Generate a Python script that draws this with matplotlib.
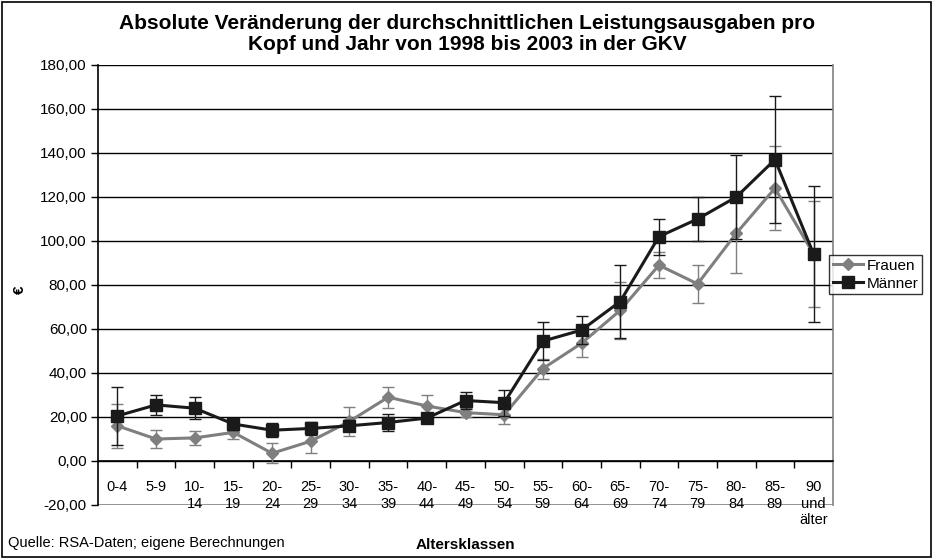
import numpy as np
import matplotlib.pyplot as plt
from matplotlib.lines import Line2D
from matplotlib.ticker import FuncFormatter, FixedLocator

plt.rcParams['font.family'] = ['Liberation Sans', 'DejaVu Sans']

# Altersklassen (x axis categories)
age_groups = ["0-4", "5-9", "10-\n14", "15-\n19", "20-\n24", "25-\n29", "30-\n34",
              "35-\n39", "40-\n44", "45-\n49", "50-\n54", "55-\n59", "60-\n64",
              "65-\n69", "70-\n74", "75-\n79", "80-\n84", "85-\n89", "90\nund\nälter"]

# mean change in EUR and error margins
frauen = [16.0, 10.0, 10.5, 13.0, 3.5, 9.0, 18.0, 29.0, 25.0, 22.0, 21.0,
          42.0, 53.5, 68.5, 89.0, 80.5, 103.5, 124.0, 94.0]
frauen_err = [10.0, 4.0, 3.0, 3.0, 4.5, 5.5, 6.5, 4.8, 5.0, 2.0, 4.0,
              4.5, 6.0, 13.0, 5.8, 8.6, 18.0, 19.0, 24.0]
maenner = [20.5, 25.5, 24.0, 16.8, 14.0, 14.8, 16.0, 17.5, 19.5, 27.5, 26.5,
           54.5, 59.5, 72.5, 102.0, 110.0, 120.0, 137.0, 94.0]
maenner_err = [13.0, 4.5, 5.0, 2.7, 3.3, 3.0, 2.5, 3.8, 2.0, 3.8, 6.0,
               8.5, 6.5, 16.6, 8.2, 9.8, 19.0, 29.0, 31.0]

x = np.arange(len(age_groups))

fig = plt.figure(figsize=(9.34, 5.59), dpi=100)
ax = fig.add_axes([98 / 934, 1 - 505 / 559, 735 / 934, 440 / 559])

# horizontal gridlines
for y in range(0, 181, 20):
    ax.axhline(y, color='#000000', lw=1.0, zorder=1)
ax.axhline(-20, color='#808080', lw=1.2, zorder=1)

ax.errorbar(x, frauen, yerr=frauen_err, color='#7f7f7f', lw=2.2,
            marker='D', markersize=6.5, ecolor='#7f7f7f', elinewidth=1,
            capsize=4, capthick=1, zorder=3)
ax.errorbar(x, maenner, yerr=maenner_err, color='#1a1a1a', lw=2.2,
            marker='s', markersize=9, ecolor='#1a1a1a', elinewidth=1,
            capsize=4, capthick=1, zorder=4)

ax.set_xlim(-0.5, len(age_groups) - 0.5)
ax.set_ylim(-20, 180)
ax.set_yticks(range(-20, 181, 20))
ax.yaxis.set_major_formatter(FuncFormatter(lambda v, p: f"{v:.2f}".replace('.', ',')))
ax.tick_params(axis='y', direction='out', length=5, width=1, labelsize=11, pad=3)

# category axis sits at zero
ax.spines['bottom'].set_position(('data', 0))
ax.spines['bottom'].set_linewidth(1.2)
ax.spines['left'].set_linewidth(1.2)
ax.spines['top'].set_visible(False)
ax.spines['right'].set_color('#808080')
ax.spines['right'].set_linewidth(1.2)

ax.set_xticks(x)
ax.set_xticklabels(age_groups, fontsize=10.5, linespacing=1.2, va='top')
ax.tick_params(axis='x', which='major', length=0, pad=14)
ax.xaxis.set_minor_locator(FixedLocator(np.arange(0.5, len(age_groups) - 1, 1)))
ax.tick_params(axis='x', which='minor', direction='out', length=5, width=1)

fig.text(20 / 934, 1 - 290 / 559, '€', rotation=90, fontsize=11,
         fontweight='bold', ha='center', va='center')
fig.text(465 / 934, 1 - 545 / 559, 'Altersklassen', fontsize=11,
         fontweight='bold', ha='center', va='center')
fig.text(8 / 934, 1 - 543 / 559, 'Quelle: RSA-Daten; eigene Berechnungen',
         fontsize=10.5, ha='left', va='center')
fig.text(467 / 934, 1 - 34 / 559,
         'Absolute Veränderung der durchschnittlichen Leistungsausgaben pro\n'
         'Kopf und Jahr von 1998 bis 2003 in der GKV',
         fontsize=15, fontweight='bold', ha='center', va='center', linespacing=1.15)

# legend keys without the error bar caps
handles = [
    Line2D([], [], color='#7f7f7f', lw=2.2, marker='D', markersize=6),
    Line2D([], [], color='#1a1a1a', lw=2.2, marker='s', markersize=9),
]
leg = fig.legend(handles, ['Frauen', 'Männer'], loc='upper left',
                 bbox_to_anchor=(829 / 934, 1 - 255 / 559),
                 fontsize=11, frameon=True, fancybox=False, edgecolor='black',
                 handlelength=2.0, handletextpad=0.2, borderpad=0.25,
                 labelspacing=0.25, borderaxespad=0)
leg.get_frame().set_linewidth(1)

# outer frame around the whole chart
fig.patches.append(plt.Rectangle((0.002, 0.003), 0.995, 0.994, transform=fig.transFigure,
                                 fill=False, edgecolor='black', lw=1.2))

fig.savefig('out.png', dpi=100)
